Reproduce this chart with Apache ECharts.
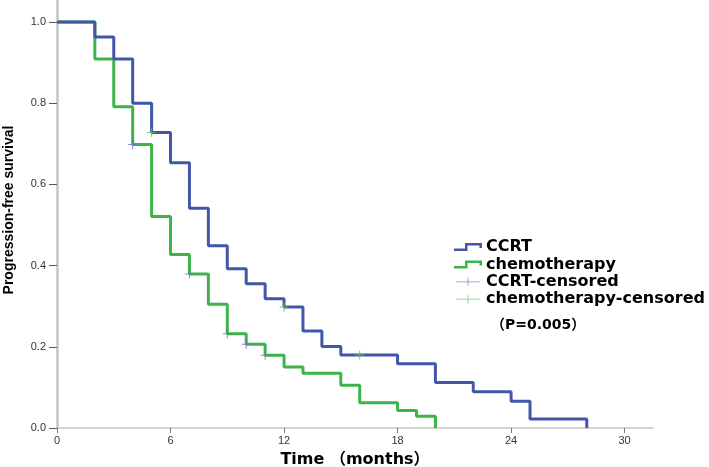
<!DOCTYPE html>
<html>
<head>
<meta charset="utf-8">
<script src="https://cdn.jsdelivr.net/npm/echarts@6/dist/echarts.min.js"></script>
<style>
html,body{margin:0;padding:0;background:#fff;}
#chart{width:709px;height:467px;}
</style>
</head>
<body>
<div id="chart"></div>
<script>
// Kaplan-Meier step data (time in months, survival proportion)
const ccrtTime = [0, 2, 3, 4, 5, 6, 7, 8, 9, 10, 11, 12, 13, 14, 15, 18, 20, 22, 24, 25, 28];
const ccrtSurv = [1, 0.963, 0.909, 0.800, 0.728, 0.653, 0.541, 0.449, 0.392, 0.355, 0.318, 0.298, 0.239, 0.201, 0.180, 0.158, 0.112, 0.089, 0.066, 0.022, 0];

const chemoTime = [0, 2, 3, 4, 5, 6, 7, 8, 9, 10, 11, 12, 13, 15, 16, 18, 19, 20];
const chemoSurv = [1, 0.909, 0.791, 0.698, 0.521, 0.427, 0.379, 0.305, 0.232, 0.206, 0.179, 0.150, 0.135, 0.105, 0.062, 0.043, 0.029, 0];

// censor marks as drawn in the figure (colour as shown)
const ccrtCensTime = [4, 7, 9, 10, 11];
const ccrtCensSurv = [0.698, 0.379, 0.232, 0.206, 0.179];
const chemoCensTime = [5, 12, 16];
const chemoCensSurv = [0.728, 0.298, 0.180];

const xTicks = [0, 6, 12, 18, 24, 30];
const yTicks = [0, 0.2, 0.4, 0.6, 0.8, 1.0];

const seriesNames = ['CCRT', 'chemotherapy', 'CCRT-censored', 'chemotherapy-censored'];
const pValueText = '（P=0.005）';

const BLUE = '#4257a9';
const GREEN = '#3db44a';
const BLUE_C = '#5f74c4';
const GREEN_C = '#55c061';

const zip = (a, b) => a.map((v, i) => [v, b[i]]);

const stepIcon = 'path://M0,5.5 L11,5.5 L11,0 L28,0 L28,5 L25.5,5 L25.5,2.5 L13.5,2.5 L13.5,8 L0,8 Z';
const plusIcon = 'path://M0,4.5 L30,4.5 L30,5.5 L0,5.5 Z M14.5,0 L15.5,0 L15.5,10 L14.5,10 Z';
const plusSym = 'path://M0,4 L9,4 L9,5 L0,5 Z M4,0 L5,0 L5,9 L4,9 Z';

const chart = echarts.init(document.getElementById('chart'), null, {renderer: 'canvas'});
const axisGray = '#c4c4c4';
chart.setOption({
  animation: false,
  backgroundColor: '#ffffff',
  grid: {left: 57, right: 56, top: 0, bottom: 39, outerBoundsMode: 'none', containLabel: false},
  xAxis: {
    type: 'value', min: 0, max: 31.5, interval: 6,
    name: 'Time （months）', nameLocation: 'middle', nameGap: 24,
    nameTextStyle: {fontFamily: 'DejaVu Sans, Noto Sans CJK SC', fontWeight: 'bold', fontSize: 16, color: '#000'},
    axisLine: {show: true, onZero: false, lineStyle: {color: axisGray, width: 1.5}},
    axisTick: {show: true, length: 5, customValues: xTicks, lineStyle: {color: '#777', width: 1}},
    axisLabel: {customValues: xTicks, fontFamily: 'Liberation Sans', fontSize: 11, color: '#333', margin: 7},
    splitLine: {show: false}
  },
  yAxis: {
    type: 'value', min: 0, max: 1.054, interval: 0.2,
    name: 'Progression-free survival', nameLocation: 'middle', nameGap: 41,
    nameTextStyle: {fontFamily: 'Liberation Sans', fontWeight: 'bold', fontSize: 14, color: '#000', padding: [0, 0, 0, 8]},
    axisLine: {show: true, onZero: false, lineStyle: {color: axisGray, width: 2.5}},
    axisTick: {show: true, length: 8, customValues: yTicks, lineStyle: {color: '#555', width: 1}},
    axisLabel: {customValues: yTicks, formatter: v => v.toFixed(1), fontFamily: 'Liberation Sans', fontSize: 11, color: '#333', margin: 11},
    splitLine: {show: false}
  },
  legend: {
    orient: 'vertical', left: 454, top: 239, itemGap: 1.4, padding: 0,
    itemWidth: 30, itemHeight: 8,
    textStyle: {fontFamily: 'DejaVu Sans', fontWeight: 'bold', fontSize: 16, color: '#000', padding: [0, 0, 0, -2]},
    itemStyle: {borderWidth: 0},
    data: [
      {name: seriesNames[0], icon: stepIcon, itemStyle: {color: BLUE, borderWidth: 0}},
      {name: seriesNames[1], icon: stepIcon, itemStyle: {color: GREEN, borderWidth: 0}},
      {name: seriesNames[2], icon: plusIcon, itemHeight: 10, itemStyle: {color: BLUE_C, borderWidth: 0}},
      {name: seriesNames[3], icon: plusIcon, itemHeight: 10, itemStyle: {color: GREEN_C, borderWidth: 0}}
    ]
  },
  graphic: [{
    type: 'text', left: 491, top: 318,
    style: {text: pValueText, fontFamily: 'DejaVu Sans, Noto Sans CJK SC', fontWeight: 'bold', fontSize: 14, fill: '#000'}
  }],
  series: [
    {name: seriesNames[0], type: 'line', step: 'end', data: zip(ccrtTime, ccrtSurv), showSymbol: false, symbol: 'none',
     color: BLUE, lineStyle: {color: BLUE, width: 3}, z: 3},
    {name: seriesNames[1], type: 'line', step: 'end', data: zip(chemoTime, chemoSurv), showSymbol: false, symbol: 'none',
     color: GREEN, lineStyle: {color: GREEN, width: 3}, z: 2},
    {name: seriesNames[2], type: 'scatter', data: zip(ccrtCensTime, ccrtCensSurv), symbol: plusSym, symbolSize: 9,
     color: BLUE_C, itemStyle: {color: BLUE_C}, z: 5},
    {name: seriesNames[3], type: 'scatter', data: zip(chemoCensTime, chemoCensSurv), symbol: plusSym, symbolSize: 9,
     color: GREEN_C, itemStyle: {color: GREEN_C}, z: 5}
  ]
});
</script>
</body>
</html>
